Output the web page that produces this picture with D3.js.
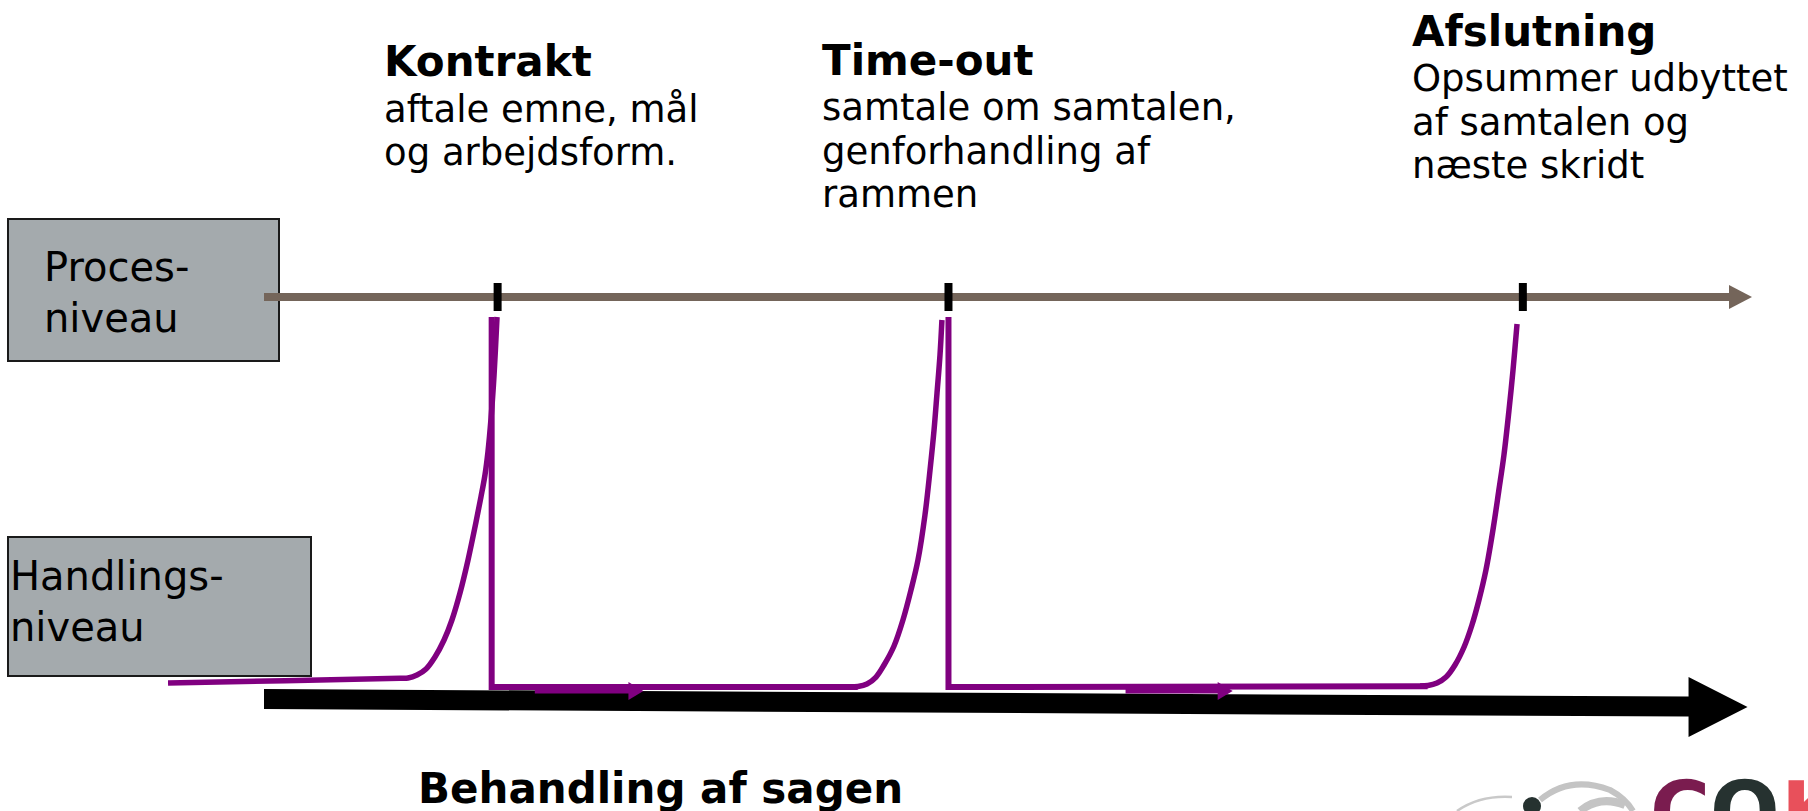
<!DOCTYPE html>
<html><head><meta charset="utf-8">
<script src="https://cdn.jsdelivr.net/npm/d3@7"></script>
<style>
html,body{margin:0;padding:0;background:#fff;overflow:hidden;}
svg{display:block;font-family:"DejaVu Sans",Verdana,sans-serif;}
</style>
</head><body>
<svg id="chart" width="1808" height="811"></svg>
<script>
// ---------------- DATA ----------------
// x: progress of the conversation (0 = start of process axis, 100 = its arrow tip)
// y: level (0 = handlingsniveau baseline, 100 = procesniveau axis)
const levelLabels = [["Proces-", "niveau"], ["Handlings-", "niveau"]];
const milestoneTitles = ["Kontrakt", "Time-out", "Afslutning"];
const milestoneText = [
  ["aftale emne, mål", "og arbejdsform."],
  ["samtale om samtalen,", "genforhandling af", "rammen"],
  ["Opsummer udbyttet", "af samtalen og", "næste skridt"]
];
const milestoneX = [15.7, 46.0, 84.6];
const processAxis = [0, 100];
const processLevel = 100;
const treatmentAxis = [[0, -3.1], [99.7, -5.1]];
const treatmentTitle = "Behandling af sagen";

const curve1 = [[-6.45, 1.03], [9.14, 2.23], [9.68, 2.31], [10.28, 3.08], [10.89, 4.62], [11.49, 7.69],
                [12.10, 12.05], [12.63, 17.18], [13.17, 24.10], [13.71, 32.56], [14.18, 41.03],
                [14.58, 48.72], [14.85, 54.36], [15.05, 60.26], [15.26, 68.97], [15.46, 80.0], [15.66, 94.87]];
const track1 = [[15.3, 94.9], [15.3, 0], [39.9, 0]];
const curve2 = [[39.38, 0], [39.92, 0.13], [40.52, 0.77], [41.13, 2.56], [41.67, 5.64], [42.34, 10.51],
                [42.94, 17.18], [43.48, 24.87], [43.95, 32.56], [44.42, 44.10], [44.76, 55.64],
                [45.03, 65.90], [45.23, 75.38], [45.43, 85.13], [45.56, 94.10]];
const track2 = [[46.0, 94.9], [46.0, 0], [78.2, 0.2]];
const curve3 = [[77.69, 0.26], [78.23, 0.38], [78.83, 1.03], [79.44, 2.56], [80.04, 5.64], [80.65, 10.26],
                [81.18, 15.90], [81.65, 22.31], [82.12, 30.0], [82.59, 40.26], [82.99, 50.51],
                [83.33, 59.49], [83.67, 71.03], [83.94, 81.28], [84.21, 93.08]];
const flowArrows = [[18.2, 25.5], [57.9, 65.1]];
const flowLevel = -0.5;

// ---------------- LAYOUT ----------------
const x = d3.scaleLinear().domain([0, 100]).range([264, 1752]);
const y = d3.scaleLinear().domain([0, 100]).range([687, 297]);

const svg = d3.select("#chart");
const purple = "#800080", brown = "#74655a", boxFill = "#a4aaad";

// level boxes
const boxes = [
  {x: 8, y: 219, w: 271, h: 142, tx: 44, ty: 281},
  {x: 8, y: 537, w: 303, h: 139, tx: 10, ty: 590}
];
boxes.forEach((b, i) => {
  svg.append("rect").attr("x", b.x).attr("y", b.y).attr("width", b.w).attr("height", b.h)
    .attr("fill", boxFill).attr("stroke", "#1a1a1a").attr("stroke-width", 2);
  const t = svg.append("text").attr("font-size", 40).attr("fill", "#000");
  levelLabels[i].forEach((ln, j) => {
    t.append("tspan").attr("x", b.tx).attr("y", b.ty + j * 51).text(ln);
  });
});

// process axis (brown arrow)
const py = y(processLevel);
const bHead = 23;
svg.append("line").attr("x1", x(processAxis[0])).attr("x2", x(processAxis[1]) - bHead + 1)
  .attr("y1", py).attr("y2", py).attr("stroke", brown).attr("stroke-width", 8);
svg.append("path").attr("fill", brown)
  .attr("d", `M${x(processAxis[1]) - bHead},${py - 12}L${x(processAxis[1])},${py}L${x(processAxis[1]) - bHead},${py + 12}Z`);

// milestone ticks
svg.selectAll("line.tick").data(milestoneX).join("line").attr("class", "tick")
  .attr("x1", d => x(d)).attr("x2", d => x(d))
  .attr("y1", py - 14).attr("y2", py + 14)
  .attr("stroke", "#000").attr("stroke-width", 8);

// treatment axis (thick black arrow)
(function () {
  const S = [x(treatmentAxis[0][0]), y(treatmentAxis[0][1])];
  const T = [x(treatmentAxis[1][0]), y(treatmentAxis[1][1])];
  const headLen = 59, half = 10, headHalf = 30;
  const bx = T[0] - headLen;
  const by = S[1] + (T[1] - S[1]) * (bx - S[0]) / (T[0] - S[0]);
  const pts = [[S[0], S[1] - half], [bx, by - half], [bx, T[1] - headHalf], T,
               [bx, T[1] + headHalf], [bx, by + half], [S[0], S[1] + half]];
  svg.append("path").attr("fill", "#000").attr("d", "M" + pts.map(p => p.join(",")).join("L") + "Z");
})();

// purple paths
const lineSmooth = d3.line().x(d => x(d[0])).y(d => y(d[1])).curve(d3.curveCatmullRom.alpha(0.5));
const lineStraight = d3.line().x(d => x(d[0])).y(d => y(d[1]));
[track1, track2].forEach(tr => {
  svg.append("path").attr("d", lineStraight(tr)).attr("fill", "none")
    .attr("stroke", purple).attr("stroke-width", 6).attr("stroke-linejoin", "miter");
});
[curve1, curve2, curve3].forEach(c => {
  svg.append("path").attr("d", lineSmooth(c)).attr("fill", "none")
    .attr("stroke", purple).attr("stroke-width", 5.5);
});

// small flow arrows on the action level
const fy = y(flowLevel) + 2;
flowArrows.forEach(([a, b]) => {
  svg.append("line").attr("x1", x(a)).attr("x2", x(b) - 13).attr("y1", fy).attr("y2", fy)
    .attr("stroke", purple).attr("stroke-width", 5);
  svg.append("path").attr("fill", purple)
    .attr("d", `M${x(b) - 15},${fy - 9}L${x(b)},${fy}L${x(b) - 15},${fy + 9}Z`);
});

// milestone labels
const labelPos = [
  {x: 384, ty: 76, by: 121.5},
  {x: 822, ty: 75, by: 120},
  {x: 1412, ty: 46, by: 91}
];
milestoneTitles.forEach((title, i) => {
  const p = labelPos[i];
  svg.append("text").attr("x", p.x).attr("y", p.ty).attr("font-size", 42).attr("font-weight", "bold")
    .attr("fill", "#000").text(title);
  const t = svg.append("text").attr("font-size", 37).attr("fill", "#000");
  milestoneText[i].forEach((ln, j) => {
    t.append("tspan").attr("x", p.x).attr("y", p.by + j * 43.5).text(ln);
  });
});

// axis title
svg.append("text").attr("x", 418).attr("y", 803).attr("font-size", 42).attr("font-weight", "bold")
  .attr("fill", "#000").text(treatmentTitle);

// partial logo in the corner (decoration)
const logo = svg.append("g");
logo.append("path").attr("d", "M1457,811 Q1480,795 1512,797").attr("fill", "none")
  .attr("stroke", "#c9c9c9").attr("stroke-width", 2.5);
logo.append("path").attr("d", "M1540,800 Q1570,775 1610,790 Q1625,798 1633,811").attr("fill", "none")
  .attr("stroke", "#c4c4c4").attr("stroke-width", 6);
logo.append("path").attr("d", "M1580,811 Q1600,795 1625,805").attr("fill", "none")
  .attr("stroke", "#c4c4c4").attr("stroke-width", 8);
logo.append("circle").attr("cx", 1532).attr("cy", 806).attr("r", 9).attr("fill", "#263230");
const logoLetters = [["C", 1650, "#7a1c4f"], ["O", 1710, "#263230"], ["K", 1781, "#e8505b"]];
logoLetters.forEach(([ch, lx, col]) => {
  logo.append("text").attr("x", lx).attr("y", 840).attr("font-size", 82).attr("font-weight", "bold")
    .attr("fill", col).text(ch);
});
</script>
</body></html>
